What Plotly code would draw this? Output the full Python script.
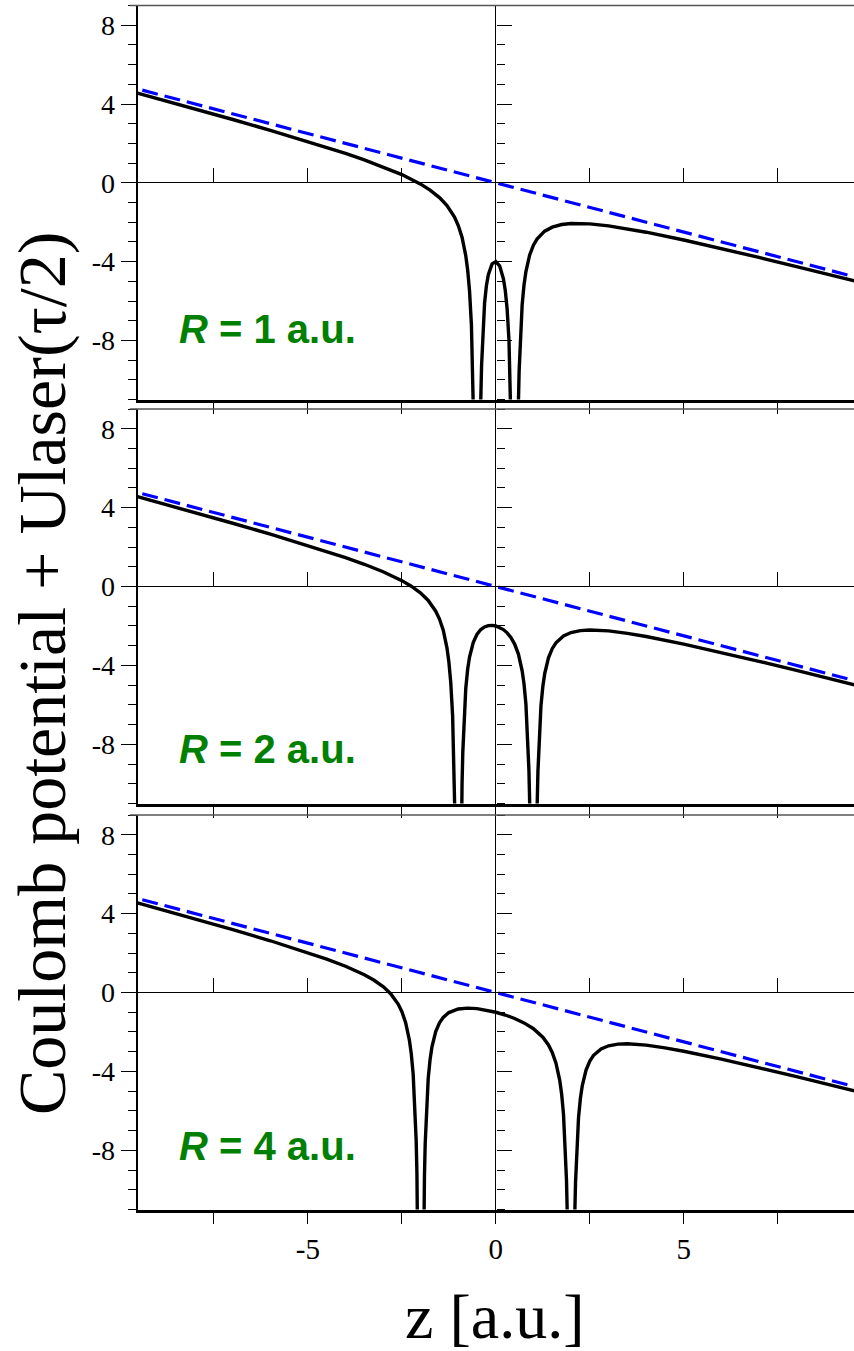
import plotly.graph_objects as go

# ---------------- data ----------------
# R = 1 a.u.
z_R1 = [-9.6, -9, -8, -7, -6, -5, -4, -3.5, -3, -2.5, -2, -1.75, -1.5, -1.3, -1.1, -1.0, -0.9, -0.8,
        -0.75, -0.7, -0.65, -0.62, -0.6, -0.58, -0.55, None,
        -0.45, -0.42, -0.4, -0.38, -0.35, -0.3, -0.25, -0.2, -0.1, 0, 0.1, 0.2, 0.25, 0.3, 0.35,
        0.38, 0.4, 0.42, 0.45, None,
        0.55, 0.58, 0.6, 0.62, 0.65, 0.7, 0.75, 0.8, 0.9, 1.0, 1.1, 1.3, 1.5, 1.75, 2, 2.25, 2.5,
        3, 3.5, 4, 5, 6, 7, 8, 9, 9.6]
V_R1 = [4.591, 4.277, 3.749, 3.213, 2.664, 2.096, 1.492, 1.167, 0.814, 0.417, -0.067, -0.369, -0.75,
        -1.156, -1.742, -2.167, -2.764, -3.703, -4.425, -5.483, -7.211, -8.916, -10.609, -13.136,
        -20.677, None,
        -20.828, -13.377, -10.911, -9.280, -7.668, -6.1, -5.208, -4.662, -4.117, -4.0, -4.217,
        -4.862, -5.458, -6.4, -8.018, -9.660, -11.311, -13.797, -21.278, None,
        -21.227, -13.716, -11.209, -9.536, -7.861, -6.183, -5.175, -4.503, -3.664, -3.167, -2.842,
        -2.456, -2.25, -2.119, -2.067, -2.060, -2.083, -2.186, -2.333, -2.508, -2.904, -3.336,
        -3.787, -4.251, -4.723, -5.009]

# R = 2 a.u.
z_R2 = [-9.6, -9, -8, -7, -6, -5, -4, -3.5, -3, -2.5, -2.25, -2, -1.8, -1.6, -1.5, -1.4, -1.3,
        -1.25, -1.2, -1.15, -1.12, -1.1, -1.08, -1.05, None,
        -0.95, -0.92, -0.9, -0.88, -0.85, -0.8, -0.75, -0.7, -0.6, -0.5, -0.4, -0.3, -0.2, -0.1,
        0, 0.1, 0.2, 0.3, 0.4, 0.5, 0.6, 0.7, 0.75, 0.8, 0.85, 0.88, 0.9, 0.92, 0.95, None,
        1.05, 1.08, 1.1, 1.12, 1.15, 1.2, 1.25, 1.3, 1.4, 1.5, 1.6, 1.8, 2, 2.25, 2.5, 2.75, 3,
        3.5, 4, 5, 6, 7, 8, 9, 9.6]
V_R2 = [4.589, 4.275, 3.746, 3.208, 2.657, 2.083, 1.467, 1.128, 0.75, 0.298, 0.017, -0.333,
        -0.707, -1.251, -1.65, -2.217, -3.118, -3.819, -4.855, -6.557, -8.245, -9.926, -12.441,
        -19.963, None,
        -20.038, -12.561, -10.076, -8.425, -6.782, -5.156, -4.196, -3.572, -2.825, -2.417, -2.181,
        -2.048, -1.983, -1.970, -2.0, -2.070, -2.183, -2.348, -2.581, -2.917, -3.425, -4.272,
        -4.946, -5.956, -7.632, -9.305, -10.976, -13.481, -20.988, None,
        -21.013, -13.521, -11.026, -9.365, -7.707, -6.055, -5.069, -4.418, -3.617, -3.15, -2.851,
        -2.507, -2.333, -2.233, -2.202, -2.213, -2.25, -2.372, -2.533, -2.917, -3.343, -3.792,
        -4.254, -4.725, -5.011]

# R = 4 a.u.
z_R4 = [-9.6, -9, -8, -7, -6, -5, -4.5, -4, -3.5, -3.25, -3, -2.8, -2.6, -2.5, -2.4, -2.3, -2.25,
        -2.2, -2.15, -2.12, -2.1, -2.08, -2.05, None,
        -1.95, -1.92, -1.9, -1.88, -1.85, -1.8, -1.75, -1.7, -1.6, -1.5, -1.4, -1.25, -1, -0.75,
        -0.5, -0.25, 0, 0.25, 0.5, 0.75, 1, 1.25, 1.4, 1.5, 1.6, 1.7, 1.75, 1.8, 1.85, 1.88, 1.9,
        1.92, 1.95, None,
        2.05, 2.08, 2.1, 2.12, 2.15, 2.2, 2.25, 2.3, 2.4, 2.5, 2.6, 2.8, 3, 3.25, 3.5, 3.75, 4,
        4.5, 5, 6, 7, 8, 9, 9.6]
V_R4 = [4.582, 4.266, 3.733, 3.189, 2.625, 2.024, 1.696, 1.333, 0.902, 0.635, 0.3, -0.058, -0.584,
        -0.972, -1.527, -2.416, -3.110, -4.138, -5.833, -7.516, -9.194, -11.705, -19.222, None,
        -19.278, -11.795, -9.306, -7.651, -6.001, -4.363, -3.392, -2.754, -1.978, -1.536, -1.261,
        -1.016, -0.833, -0.789, -0.817, -0.891, -1.0, -1.141, -1.317, -1.539, -1.833, -2.266,
        -2.661, -3.036, -3.578, -4.454, -5.142, -6.163, -7.851, -9.531, -11.206, -13.715, -21.228,
        None,
        -21.272, -13.785, -11.294, -9.636, -7.983, -6.338, -5.360, -4.716, -3.927, -3.472, -3.184,
        -2.858, -2.7, -2.616, -2.599, -2.620, -2.667, -2.804, -2.976, -3.375, -3.811, -4.267,
        -4.734, -5.018]

# laser potential alone (dashed)
z_laser = [-10, 10]
V_laser = [5, -5]

panel_labels = ["R = 1 a.u.", "R = 2 a.u.", "R = 4 a.u."]
label_z = [-8.48, -8.48, -8.48]
label_V = [-7.4, -8.26, -7.8]

x_tickvals = [-7.5, -5, -2.5, 0, 2.5, 5, 7.5]
x_ticktext = ["", "-5", "", "0", "", "5", ""]
y_tickvals = [-8, -4, 0, 4, 8]
y_ticktext = ["-8", "-4", "0", "4", "8"]

x_range = [-9.53, 9.53]
y_range = [-11, 9]

# ---------------- layout geometry ----------------
W, H = 854, 1351
x_dom = [137.7 / W, 1.0]
panel_px = [(5.5, 399.5), (409.0, 803.5), (815.0, 1209.5)]
y_doms = [[1 - b / H, 1 - t / H] for (t, b) in panel_px]

serif = "Liberation Serif, Times New Roman, serif"
sans = "Liberation Sans, Arial, sans-serif"

fig = go.Figure()
curves = [(z_R1, V_R1), (z_R2, V_R2), (z_R4, V_R4)]

for i, (zz, vv) in enumerate(curves):
    n = i + 1
    xa = "x" if n == 1 else f"x{n}"
    ya = "y" if n == 1 else f"y{n}"
    fig.add_trace(go.Scatter(x=z_laser, y=V_laser, xaxis=xa, yaxis=ya, mode="lines",
                             line=dict(color="#0000ff", width=3.2, dash="16px,7px"),
                             showlegend=False, hoverinfo="skip"))
    fig.add_trace(go.Scatter(x=zz, y=vv, xaxis=xa, yaxis=ya, mode="lines",
                             line=dict(color="black", width=3.4),
                             connectgaps=False, showlegend=False, hoverinfo="skip"))
    # dummy traces to activate interior tick axes
    fig.add_trace(go.Scatter(x=[0], y=[0], xaxis=f"x{n+3}", yaxis=ya, mode="lines",
                             opacity=0, showlegend=False, hoverinfo="skip"))
    fig.add_trace(go.Scatter(x=[0], y=[0], xaxis=xa, yaxis=f"y{n+3}", mode="lines",
                             opacity=0, showlegend=False, hoverinfo="skip"))

    yd = y_doms[i]
    last = (n == 3)
    fig.layout[f"xaxis{n}"] = dict(
        domain=x_dom, range=x_range, anchor=ya,
        showline=True, linecolor="black", linewidth=2.8,
        ticks="outside", ticklen=12, tickwidth=1.4, tickcolor="black",
        tickmode="array", tickvals=x_tickvals, ticktext=x_ticktext,
        showticklabels=last, tickfont=dict(family=serif, size=29, color="black"),
        showgrid=False, zeroline=True, zerolinecolor="black", zerolinewidth=1.4,
    )
    fig.layout[f"yaxis{n}"] = dict(
        domain=yd, range=y_range, anchor=xa,
        showline=True, linecolor="black", linewidth=2.2,
        ticks="outside", ticklen=15, tickwidth=1.4, tickcolor="black",
        tickmode="array", tickvals=y_tickvals, ticktext=y_ticktext,
        tickfont=dict(family=serif, size=28, color="black"),
        minor=dict(tickmode="linear", tick0=0, dtick=1, ticks="outside", ticklen=8,
                   tickwidth=1.4, tickcolor="black"),
        showgrid=False, zeroline=True, zerolinecolor="black", zerolinewidth=1.4,
    )
    # interior x ticks on the y=0 line (pointing up)
    zero_y_paper = yd[0] + (0 - y_range[0]) / (y_range[1] - y_range[0]) * (yd[1] - yd[0])
    fig.layout[f"xaxis{n+3}"] = dict(
        overlaying=xa, range=x_range, anchor="free", position=zero_y_paper, side="top",
        ticks="outside", ticklen=15, tickwidth=1.4, tickcolor="black",
        tickmode="array", tickvals=x_tickvals, showticklabels=False,
        showline=False, showgrid=False, zeroline=False,
    )
    # interior y ticks on the z=0 line (pointing right)
    zero_x_paper = x_dom[0] + (0 - x_range[0]) / (x_range[1] - x_range[0]) * (x_dom[1] - x_dom[0])
    fig.layout[f"yaxis{n+3}"] = dict(
        overlaying=ya, range=y_range, anchor="free", position=zero_x_paper, side="right",
        ticks="outside", ticklen=15, tickwidth=1.4, tickcolor="black",
        tickmode="array", tickvals=y_tickvals, showticklabels=False,
        minor=dict(tickmode="linear", tick0=0, dtick=1, ticks="outside", ticklen=8,
                   tickwidth=1.4, tickcolor="black"),
        showline=False, showgrid=False, zeroline=False,
    )
    # top border of each panel
    fig.add_shape(type="line", xref="paper", yref="paper", x0=130 / W, x1=1.0,
                  y0=yd[1], y1=yd[1], line=dict(color="#555555", width=1.3))

    fig.add_annotation(x=label_z[i], y=label_V[i], xref=xa, yref=ya,
                       text="<b><i>R</i>" + panel_labels[i][1:] + "</b>",
                       showarrow=False, xanchor="left", yanchor="middle",
                       font=dict(family=sans, size=40, color="#008000"))

fig.add_annotation(x=42 / W, y=1 - 674 / H, xref="paper", yref="paper",
                   text="Coulomb potential + Ulaser(τ/2)", textangle=-90, showarrow=False,
                   xanchor="center", yanchor="middle",
                   font=dict(family=serif, size=68, color="black"))
fig.add_annotation(x=494 / W, y=1 - 1316 / H, xref="paper", yref="paper",
                   text="z [a.u.]", showarrow=False, xanchor="center", yanchor="middle",
                   font=dict(family=serif, size=64, color="black"))

fig.update_layout(width=W, height=H, margin=dict(l=0, r=0, t=0, b=0),
                  paper_bgcolor="white", plot_bgcolor="white", showlegend=False)

fig.write_html("out.html")
